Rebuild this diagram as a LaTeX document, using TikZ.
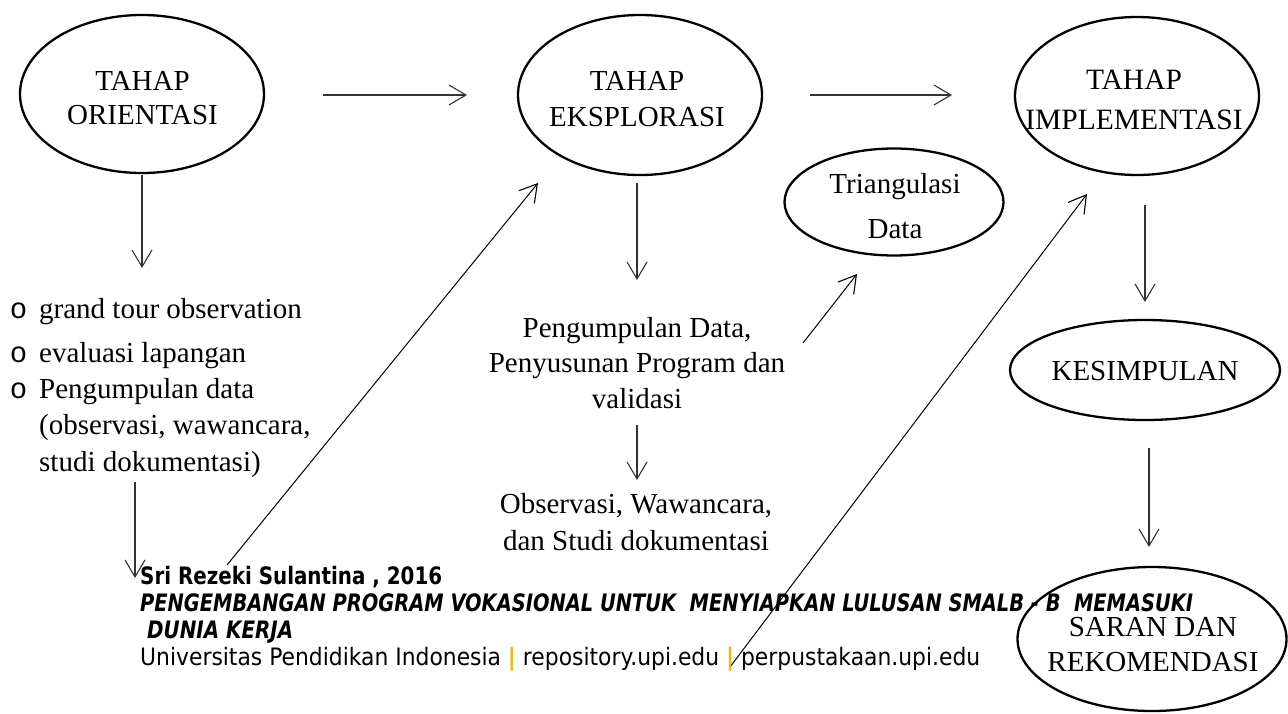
\documentclass[tikz,border=0pt]{standalone}
\usepackage{fontspec}
\setmainfont{Liberation Serif}
\newfontfamily\footfont{DejaVu Sans}
\newfontfamily\bulfont{Liberation Mono}
\usetikzlibrary{shapes.geometric,arrows.meta}
\definecolor{barY}{HTML}{F5B800}
\begin{document}
\begin{tikzpicture}[x=1pt,y=-1pt,
  stage/.style={ellipse, draw, line width=2.3pt, inner sep=0pt},
  txt/.style={font=\fontsize{29}{35}\selectfont, inner sep=0pt, align=center},
  item/.style={font=\fontsize{29}{35}\selectfont, inner sep=0pt, anchor=base west},
  bul/.style={font=\bulfont\fontsize{29}{35}\selectfont, inner sep=0pt, anchor=base},
  foot/.style={font=\footfont\fontsize{24}{28}\selectfont, inner sep=0pt, anchor=base west},
  arr/.style={-{Straight Barb[length=17pt,width=20pt,line width=1.1pt]}, line width=1.1pt, draw=black!80}
]
\useasboundingbox (0,0) rectangle (1288,713);

% stage ellipses
\node[stage, minimum width=244pt, minimum height=158pt] (ori) at (142,94) {};
\node[stage, minimum width=244pt, minimum height=160pt] (eks) at (640,95) {};
\node[stage, minimum width=244pt, minimum height=158pt] (imp) at (1137,96) {};
\node[stage, minimum width=219pt, minimum height=107pt] (tri) at (894,202) {};
\node[stage, minimum width=270pt, minimum height=100pt] (kes) at (1145,370) {};
\node[stage, minimum width=269pt, minimum height=144pt] (sar) at (1152,639) {};

% texts in ellipses
\node[txt, font=\fontsize{29}{34}\selectfont] (oriT) at (142.5,98.4) {TAHAP\\ORIENTASI};
\node[txt, font=\fontsize{29}{36}\selectfont] (eksT) at (637,99.1) {TAHAP\\EKSPLORASI};
\node[txt, font=\fontsize{29.5}{40}\selectfont] (impT) at (1134,100.4) {TAHAP\\IMPLEMENTASI};
\node[txt, font=\fontsize{29}{45}\selectfont] (triT) at (895,205.6) {Triangulasi\\Data};
\node[txt, anchor=base] (kesT) at (1145,380) {KESIMPULAN};
\node[txt, font=\fontsize{29}{35}\selectfont] (sarT) at (1153,644.9) {SARAN DAN\\REKOMENDASI};

% eksplorasi sub texts
\node[txt, font=\fontsize{29}{35.5}\selectfont] (pd) at (637,362.6) {Pengumpulan Data,\\Penyusunan Program dan\\validasi};
\node[txt, font=\fontsize{29}{37}\selectfont] (obs) at (636,521.7) {Observasi, Wawancara,\\dan Studi dokumentasi};

% orientasi list
\node[bul] (b1) at (18.5,318) {o};
\node[bul] (b2) at (18.5,362) {o};
\node[bul] (b3) at (18.5,398) {o};
\node[item] (l1) at (39,318) {grand tour observation};
\node[item] (l2) at (39,362) {evaluasi lapangan};
\node[item] (l3) at (39,398) {Pengumpulan data};
\node[item] (l4) at (39,434) {(observasi, wawancara,};
\node[item] (l5) at (39,471) {studi dokumentasi)};

% arrow end points
\coordinate (h1s) at (323,95);  \coordinate (h1e) at (467,95);
\coordinate (h2s) at (810,95);  \coordinate (h2e) at (952,95);
\coordinate (d1s) at (142,175); \coordinate (d1e) at (142,268);
\coordinate (d2s) at (637,183); \coordinate (d2e) at (637,280);
\coordinate (d3s) at (637,425); \coordinate (d3e) at (637,480);
\coordinate (d4s) at (135,482); \coordinate (d4e) at (135,578);
\coordinate (d5s) at (1145,205); \coordinate (d5e) at (1145,302);
\coordinate (d6s) at (1149,448); \coordinate (d6e) at (1149,547);
\coordinate (g1s) at (227,565); \coordinate (g1e) at (538,183);
\coordinate (g2s) at (803,343); \coordinate (g2e) at (857,274);
\coordinate (g3s) at (730,667); \coordinate (g3e) at (1087,194);

\draw[arr] (h1s) -- (h1e);
\draw[arr] (h2s) -- (h2e);
\draw[arr] (d1s) -- (d1e);
\draw[arr] (d2s) -- (d2e);
\draw[arr] (d3s) -- (d3e);
\draw[arr] (d4s) -- (d4e);
\draw[arr] (d5s) -- (d5e);
\draw[arr] (d6s) -- (d6e);
\draw[arr, draw=black, line width=1pt] (g1s) -- (g1e);
\draw[arr, draw=black, line width=1pt] (g2s) -- (g2e);
\draw[arr, draw=black, line width=1pt] (g3s) -- (g3e);

% footer
\node[foot] (f1) at (140,584) {\resizebox{302pt}{\height}{\bfseries Sri Rezeki Sulantina , 2016}};
\node[foot] (f2) at (140,611) {\resizebox{1053pt}{\height}{\bfseries\itshape PENGEMBANGAN PROGRAM VOKASIONAL UNTUK\ \ MENYIAPKAN LULUSAN SMALB - B\ \ MEMASUKI}};
\node[foot] (f3) at (147,638) {\resizebox{146pt}{\height}{\bfseries\itshape DUNIA KERJA}};
\node[foot] (f4) at (140,665) {\resizebox{840pt}{\height}{Universitas Pendidikan Indonesia \textcolor{barY}{\textbf{|}} repository.upi.edu \textcolor{barY}{\textbf{|}} perpustakaan.upi.edu}};
\end{tikzpicture}
\end{document}
